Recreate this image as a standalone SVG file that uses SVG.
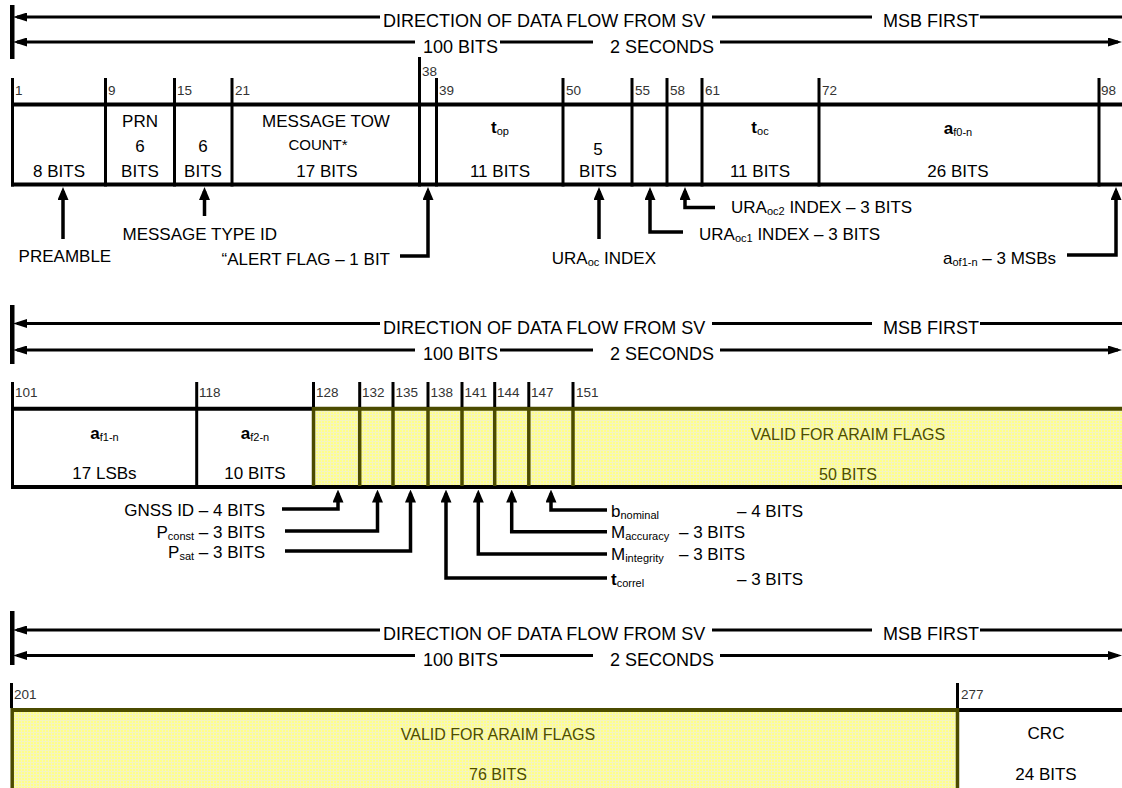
<svg xmlns="http://www.w3.org/2000/svg" width="1122" height="788" viewBox="0 0 1122 788">
<defs>
<style>
text{font-family:"Liberation Sans",Arial,Helvetica,sans-serif;font-size:17px;fill:#000}
.h{font-size:18px}
.n{font-size:13.5px;fill:#333}
.s{font-size:11px}
.b{font-weight:bold}
.v{fill:#4d4d00;font-size:16px}
.ln{stroke:#000;stroke-width:3;fill:none}
.bx{stroke:#000;stroke-width:4;fill:none}
.ob{stroke:#4b4b00;stroke-width:4;fill:none}
.dv{stroke:#000;stroke-width:3;fill:none}
.od{stroke:#4b4b00;stroke-width:3.5;fill:none}
.cn{stroke:#000;stroke-width:3.5;fill:none;marker-end:url(#up)}
</style>
<marker id="ah" markerUnits="userSpaceOnUse" viewBox="0 0 14 9" refX="10" refY="4.5" markerWidth="14" markerHeight="9" orient="auto"><path d="M0,0L14,4.5L0,9z"/></marker>
<marker id="up" markerUnits="userSpaceOnUse" viewBox="0 0 13 11" refX="9" refY="5.5" markerWidth="13" markerHeight="11" orient="auto"><path d="M0,0L13,5.5L0,11z"/></marker>
<pattern id="yp" width="3" height="3" patternUnits="userSpaceOnUse"><rect width="3" height="3" fill="#ffff88"/><rect width="3" height="1" fill="#f4f4c0"/><rect width="1" height="3" fill="#f4f4c0"/></pattern>
</defs>
<rect width="1122" height="788" fill="#fff"/>

<!-- Section 1 header -->
<g id="header1">
<rect x="10" y="5" width="4.5" height="54"/>
<path class="ln" d="M380,17H17" marker-end="url(#ah)"/>
<path class="ln" d="M712,17H872M980,17H1122"/>
<text class="h" x="383" y="27">DIRECTION OF DATA FLOW FROM SV</text>
<text class="h" x="883" y="27">MSB FIRST</text>
<path class="ln" d="M415,42H17" marker-end="url(#ah)"/>
<path class="ln" d="M500,42H593"/>
<path class="ln" d="M720,42H1118" marker-end="url(#ah)"/>
<text class="h" x="423" y="53">100 BITS</text>
<text class="h" x="610" y="53">2 SECONDS</text>
</g>

<!-- Section 1 fields -->
<g id="frame1"><path class="bx" d="M11,104.5H1122M11,184.5H1122"/></g>
<g id="f1-preamble"><path class="dv" d="M12.5,78V186.5"/><text class="n" x="15" y="95">1</text><text x="59" y="177" text-anchor="middle">8 BITS</text></g>
<g id="f9-prn"><path class="dv" d="M105.5,78V186.5"/><text class="n" x="108" y="95">9</text><text x="140" y="127" text-anchor="middle">PRN</text><text x="140" y="152" text-anchor="middle">6</text><text x="140" y="177" text-anchor="middle">BITS</text></g>
<g id="f15-type"><path class="dv" d="M174.5,78V186.5"/><text class="n" x="177" y="95">15</text><text x="203" y="152" text-anchor="middle">6</text><text x="203" y="177" text-anchor="middle">BITS</text></g>
<g id="f21-tow"><path class="dv" d="M232,78V186.5"/><text class="n" x="235" y="95">21</text><text x="326" y="127" text-anchor="middle">MESSAGE TOW</text><text x="318" y="150" text-anchor="middle" style="font-size:15px">COUNT*</text><text x="327" y="177" text-anchor="middle">17 BITS</text></g>
<g id="f38-alert"><path class="dv" d="M419.5,57V186.5"/><text class="n" x="422" y="76">38</text></g>
<g id="f39-top"><path class="dv" d="M436.5,78V186.5"/><text class="n" x="439" y="95">39</text><text x="500" y="133" text-anchor="middle"><tspan class="b">t</tspan><tspan class="s" dy="2">op</tspan></text><text x="500" y="177" text-anchor="middle">11 BITS</text></g>
<g id="f50-ura"><path class="dv" d="M563,78V186.5"/><text class="n" x="566" y="95">50</text><text x="598" y="155" text-anchor="middle">5</text><text x="598" y="177" text-anchor="middle">BITS</text></g>
<g id="f55-ura1"><path class="dv" d="M632,78V186.5"/><text class="n" x="635" y="95">55</text></g>
<g id="f58-ura2"><path class="dv" d="M667,78V186.5"/><text class="n" x="670" y="95">58</text></g>
<g id="f61-toc"><path class="dv" d="M702,78V186.5"/><text class="n" x="705" y="95">61</text><text x="760" y="133" text-anchor="middle"><tspan class="b">t</tspan><tspan class="s" dy="2">oc</tspan></text><text x="760" y="177" text-anchor="middle">11 BITS</text></g>
<g id="f72-af0"><path class="dv" d="M819,78V186.5"/><text class="n" x="822" y="95">72</text><text x="958" y="134" text-anchor="middle"><tspan class="b">a</tspan><tspan class="s" dy="2">f0-n</tspan></text><text x="958" y="177" text-anchor="middle">26 BITS</text></g>
<g id="f98-af1"><path class="dv" d="M1099,78V186.5"/><text class="n" x="1101" y="95">98</text></g>

<!-- Section 2 header -->
<g id="header2">
<rect x="10" y="305" width="4.5" height="59"/>
<path class="ln" d="M380,323.5H17" marker-end="url(#ah)"/>
<path class="ln" d="M712,323.5H872M980,323.5H1122"/>
<text class="h" x="383" y="333.5">DIRECTION OF DATA FLOW FROM SV</text>
<text class="h" x="883" y="333.5">MSB FIRST</text>
<path class="ln" d="M415,350H17" marker-end="url(#ah)"/>
<path class="ln" d="M500,350H593"/>
<path class="ln" d="M720,350H1118" marker-end="url(#ah)"/>
<text class="h" x="423" y="360">100 BITS</text>
<text class="h" x="610" y="360">2 SECONDS</text>
</g>

<!-- Section 2 fields -->
<g id="frame2">
<rect x="313" y="409" width="809" height="78" fill="url(#yp)"/>
<path class="bx" d="M11,408.7H313M11,487H1122"/>
<path class="ob" d="M313,408.7H1122"/>
</g>
<g id="f101-af1"><path class="dv" d="M12.5,382V489"/><text class="n" x="15" y="397">101</text><text x="104.5" y="439" text-anchor="middle"><tspan class="b">a</tspan><tspan class="s" dy="2">f1-n</tspan></text><text x="104.5" y="479" text-anchor="middle">17 LSBs</text></g>
<g id="f118-af2"><path class="dv" d="M196.7,382V489"/><text class="n" x="199" y="397">118</text><text x="255" y="439" text-anchor="middle"><tspan class="b">a</tspan><tspan class="s" dy="2">f2-n</tspan></text><text x="255" y="479" text-anchor="middle">10 BITS</text></g>
<g id="f128-gnss"><path class="dv" d="M313.5,382V407"/><path class="od" d="M313.5,407V486"/><text class="n" x="316" y="397">128</text></g>
<g id="f132-pconst"><path class="dv" d="M359.7,382V407"/><path class="od" d="M359.7,407V486"/><text class="n" x="362" y="397">132</text></g>
<g id="f135-psat"><path class="dv" d="M393,382V407"/><path class="od" d="M393,407V486"/><text class="n" x="395.5" y="397">135</text></g>
<g id="f138-tcorrel"><path class="dv" d="M428,382V407"/><path class="od" d="M428,407V486"/><text class="n" x="430.5" y="397">138</text></g>
<g id="f141-mint"><path class="dv" d="M462,382V407"/><path class="od" d="M462,407V486"/><text class="n" x="464.5" y="397">141</text></g>
<g id="f144-macc"><path class="dv" d="M494.7,382V407"/><path class="od" d="M494.7,407V486"/><text class="n" x="497" y="397">144</text></g>
<g id="f147-bnom"><path class="dv" d="M528.8,382V407"/><path class="od" d="M528.8,407V486"/><text class="n" x="531" y="397">147</text></g>
<g id="f151-valid"><path class="dv" d="M573,382V407"/><path class="od" d="M573,407V486"/><text class="n" x="576" y="397">151</text><text class="v" x="848" y="440" text-anchor="middle">VALID FOR ARAIM FLAGS</text><text class="v" x="848" y="480" text-anchor="middle">50 BITS</text></g>

<!-- Section 3 header -->
<g id="header3">
<rect x="10" y="611" width="4.5" height="54"/>
<path class="ln" d="M380,630H17" marker-end="url(#ah)"/>
<path class="ln" d="M712,630H872M980,630H1122"/>
<text class="h" x="383" y="640">DIRECTION OF DATA FLOW FROM SV</text>
<text class="h" x="883" y="640">MSB FIRST</text>
<path class="ln" d="M415,655.5H17" marker-end="url(#ah)"/>
<path class="ln" d="M500,655.5H593"/>
<path class="ln" d="M720,655.5H1118" marker-end="url(#ah)"/>
<text class="h" x="423" y="665.5">100 BITS</text>
<text class="h" x="610" y="665.5">2 SECONDS</text>
</g>

<!-- Section 3 fields -->
<g id="frame3">
<rect x="11" y="710" width="946" height="78" fill="url(#yp)"/>
<path class="ob" d="M11,710H957"/>
<path class="bx" d="M957,710H1122"/>
</g>
<g id="f201-valid"><path class="dv" d="M11.5,683V708"/><path class="od" d="M12.2,708V788"/><text class="n" x="14" y="699">201</text><text class="v" x="498" y="740" text-anchor="middle">VALID FOR ARAIM FLAGS</text><text class="v" x="498" y="780" text-anchor="middle">76 BITS</text></g>
<g id="f277-crc"><path class="dv" d="M957.5,683V708"/><path class="od" d="M957.5,708V788"/><text class="n" x="961" y="699">277</text><text x="1046" y="739" text-anchor="middle">CRC</text><text x="1046" y="780" text-anchor="middle">24 BITS</text></g>

<!-- Connectors -->
<g id="connectors">
<path class="cn" d="M63,239V191"/>
<path class="cn" d="M204.5,216V191"/>
<path class="cn" d="M400,256H428V191"/>
<path class="cn" d="M599,239V191"/>
<path class="cn" d="M683,232H650V191"/>
<path class="cn" d="M715,207.5H685V191"/>
<path class="cn" d="M1067,255H1116V191"/>
<path class="cn" d="M282,509H338V493.5"/>
<path class="cn" d="M285,531H377.5V493.5"/>
<path class="cn" d="M285,551H410.5V493.5"/>
<path class="cn" d="M607,578H446V493.5"/>
<path class="cn" d="M607,554H478.3V493.5"/>
<path class="cn" d="M607,531.7H511.7V493.5"/>
<path class="cn" d="M607,510H551V493.5"/>
</g>

<!-- Callout labels -->
<g id="lbl-preamble"><text x="18.6" y="262">PREAMBLE</text></g>
<g id="lbl-msgtype"><text x="122.5" y="240">MESSAGE TYPE ID</text></g>
<g id="lbl-alert"><text x="390" y="265" text-anchor="end">“ALERT FLAG – 1 BIT</text></g>
<g id="lbl-uraoc"><text x="656" y="264" text-anchor="end">URA<tspan class="s" dy="2">oc</tspan><tspan dy="-2"> INDEX</tspan></text></g>
<g id="lbl-uraoc1"><text x="699" y="240">URA<tspan class="s" dy="2">oc1</tspan><tspan dy="-2"> INDEX – 3 BITS</tspan></text></g>
<g id="lbl-uraoc2"><text x="731" y="213">URA<tspan class="s" dy="2">oc2</tspan><tspan dy="-2"> INDEX – 3 BITS</tspan></text></g>
<g id="lbl-aof1"><text x="1056" y="264" text-anchor="end">a<tspan class="s" dy="2">of1-n</tspan><tspan dy="-2"> – 3 MSBs</tspan></text></g>
<g id="lbl-gnss"><text x="265" y="516" text-anchor="end">GNSS ID – 4 BITS</text></g>
<g id="lbl-pconst"><text x="265" y="538" text-anchor="end">P<tspan class="s" dy="2">const</tspan><tspan dy="-2"> – 3 BITS</tspan></text></g>
<g id="lbl-psat"><text x="265" y="558" text-anchor="end">P<tspan class="s" dy="2">sat</tspan><tspan dy="-2"> – 3 BITS</tspan></text></g>
<g id="lbl-bnom"><text x="611" y="517">b<tspan class="s" dy="2">nominal</tspan></text><text x="737" y="517">– 4 BITS</text></g>
<g id="lbl-macc"><text x="611" y="538">M<tspan class="s" dy="2">accuracy</tspan></text><text x="679" y="538">– 3 BITS</text></g>
<g id="lbl-mint"><text x="611" y="560">M<tspan class="s" dy="2">integrity</tspan></text><text x="679" y="560">– 3 BITS</text></g>
<g id="lbl-tcorrel"><text x="611" y="585"><tspan class="b">t</tspan><tspan class="s" dy="2">correl</tspan></text><text x="737" y="585">– 3 BITS</text></g>
</svg>
